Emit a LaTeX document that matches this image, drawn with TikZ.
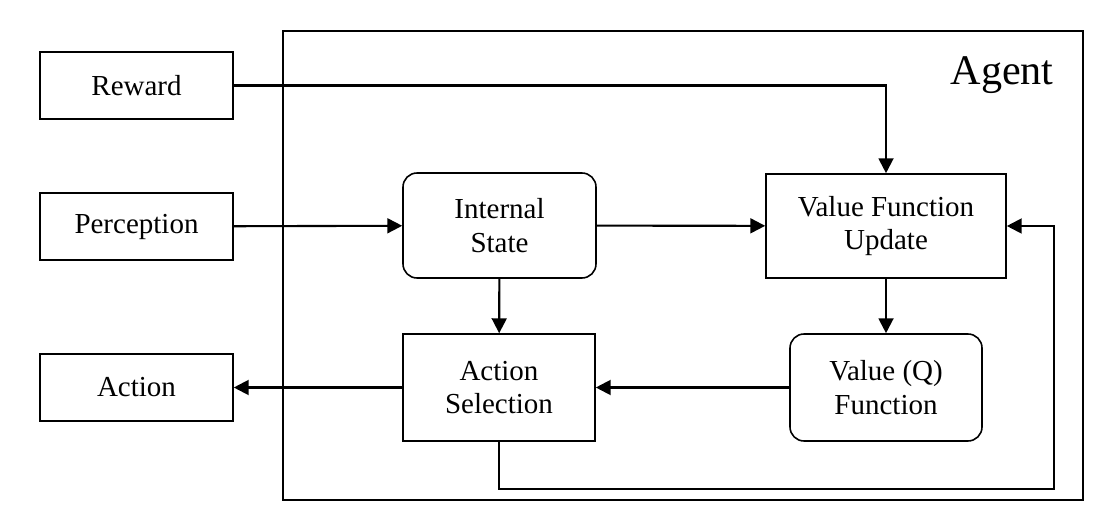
\documentclass[tikz,border=0pt]{standalone}
\usepackage{fontspec}
\setmainfont{Liberation Serif}
\usetikzlibrary{arrows.meta}

\begin{document}
\begin{tikzpicture}[every node/.style={draw, line width=0.9pt, align=center, inner sep=2pt, font=\fontsize{16.5}{19}\selectfont},
	outbox/.style={minimum width=3.86cm, minimum height=1.34cm},
	roundbox/.style={rounded corners=8pt},
	flow/.style={-{Triangle[length=8.5pt,width=8.5pt]}, line width=1.2pt}]
						\useasboundingbox (0,0) rectangle (22.32,-10.46);
						\draw[line width=0.8pt] (5.66,-0.62) rectangle (21.66,-10.0);
						\node[draw=none, anchor=base east, font=\fontsize{24}{28}\selectfont] (agent) at (21.16,-1.70) {Agent};
						\node[outbox] (reward) at (2.73,-1.71) {Reward};
						\node[outbox] (perception) at (2.73,-4.53) {Perception};
						\node[outbox] (action) at (2.73,-7.75) {Action};
						\node[roundbox, minimum width=3.86cm, minimum height=2.10cm] (state) at (9.99,-4.51) {Internal\\State};
						\node[minimum width=4.80cm, minimum height=2.08cm] (update) at (17.72,-4.52) {Value Function\\Update};
						\node[minimum width=3.84cm, minimum height=2.14cm] (select) at (9.98,-7.75) {Action\\Selection};
						\node[roundbox, minimum width=3.84cm, minimum height=2.14cm] (qvalue) at (17.72,-7.75) {Value (Q)\\Function};
						\coordinate (loop) at (21.08,-9.78);
						\draw[flow] (reward) -| (update);
						\draw[flow] (perception) -- (state);
						\draw[flow] (state) -- (update);
						\draw[flow] (state) -- (select);
						\draw[flow] (update) -- (qvalue);
						\draw[flow] (qvalue) -- (select);
						\draw[flow] (select) -- (action);
						\draw[flow] (select.south) |- (loop) |- (update.east);
					\end{tikzpicture}
\end{document}
